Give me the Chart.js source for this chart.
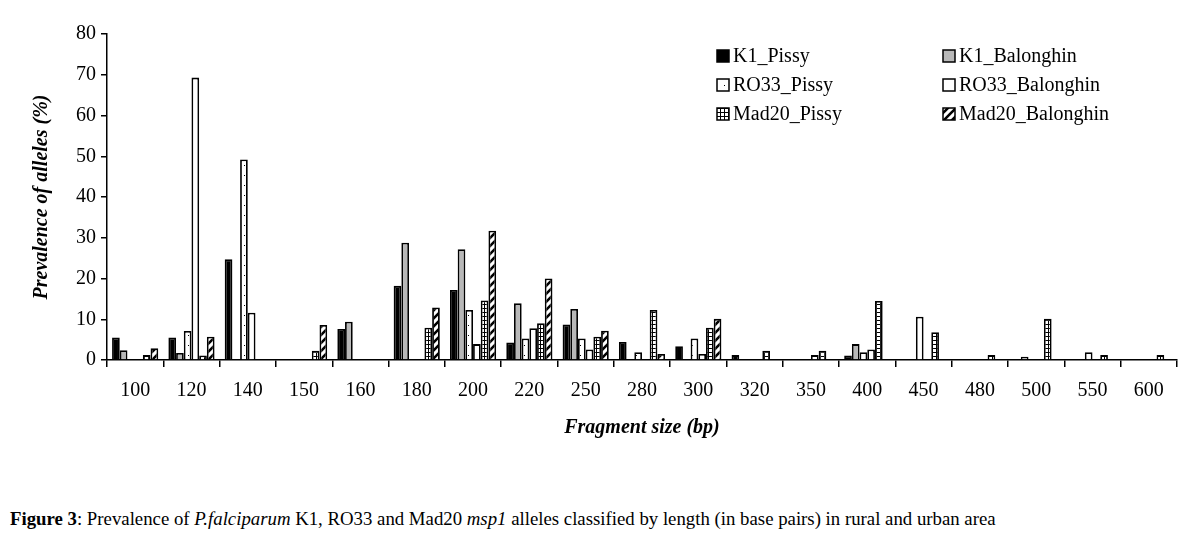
<!DOCTYPE html>
<html>
<head>
<meta charset="utf-8">
<script src="https://cdn.jsdelivr.net/npm/chart.js@4.4.1/dist/chart.umd.min.js"></script>
<style>
    body { margin: 0; background: #fff; }
    #wrap { position: relative; width: 1200px; height: 440px; }
    #caption { font-family: "Liberation Serif", serif; font-size: 18.8px; color: #000; margin: 68px 0 0 10px; white-space: nowrap; }
</style>
</head>
<body>
<div id="wrap"><canvas id="grafico"></canvas></div>
<div id="caption"><b>Figure 3</b>: Prevalence of <i>P.falciparum</i> K1, RO33 and Mad20 <i>msp1</i> alleles classified by length (in base pairs) in rural and urban area</div>
<script>
// tamaños de fragmento (bp)
const fragmentos = ["100","120","140","150","160","180","200","220","250","280","300","320","350","400","450","480","500","550","600"];

// prevalencia (%) por serie
const k1Pissy        = [5.5, 5.5, 24.7, 0,   7.6, 18.2, 17.2, 4.3,  8.7,  4.4, 3.4, 1.2, 0,   1.1, 0,    0,   0,    0,   0];
const k1Balonghin    = [2.4, 1.7, 0,    0,   9.4, 28.8, 27.2, 13.9, 12.5, 0,   0,   0,   0,   3.9, 0,    0,   0.8,  0,   0];
const ro33Pissy      = [0,   7.1, 49.2, 0,   0,   0,    12.3, 5.3,  5.3,  1.9, 5.3, 0,   0,   1.9, 10.6, 0,   0,    1.9, 0];
const ro33Balonghin  = [0,   69.3,11.6, 0,   0,   0,    3.9,  7.8,  2.6,  0,   1.5, 0,   1.2, 2.6, 0,    0,   0,    0,   0];
const mad20Pissy     = [1.2, 1.1, 0,    2.3, 0,   7.9,  14.6, 9.0,  5.7,  12.3,7.9, 2.3, 2.3, 14.5,6.8,  1.2, 10.1, 1.2, 1.2];
const mad20Balonghin = [2.9, 5.7, 0,    8.6, 0,   12.9, 31.7, 20.0, 7.2,  1.5, 10.1,0,   0,   0,   0,    0,   0,    0,   0];

const yTicks = [0,10,20,30,40,50,60,70,80];

function tramado(tipo) {
    const c = document.createElement("canvas");
    const g = c.getContext("2d");
    if (tipo == "puntos") {
        c.width = 8; c.height = 10;
        g.fillStyle = "#fff"; g.fillRect(0,0,8,10);
        g.fillStyle = "#000"; g.fillRect(4,5,1,1);
    } else if (tipo == "rejilla") {
        c.width = 4; c.height = 4;
        g.fillStyle = "#fff"; g.fillRect(0,0,4,4);
        g.fillStyle = "#000"; g.fillRect(0,0,4,1); g.fillRect(0,0,1,4);
    } else {
        c.width = 8; c.height = 8;
        g.fillStyle = "#fff"; g.fillRect(0,0,8,8);
        g.strokeStyle = "#000"; g.lineWidth = 2.6;
        g.beginPath();
        g.moveTo(-2,10); g.lineTo(10,-2);
        g.moveTo(-6,6); g.lineTo(6,-6);
        g.moveTo(2,14); g.lineTo(14,2);
        g.stroke();
    }
    return g.createPattern(c, "repeat");
}

function loadPage() {
    const fuente = '"Liberation Serif", "Times New Roman", serif';
    const serie = (label, data, fondo) => ({
        label: label,
        data: data,
        backgroundColor: fondo,
        borderColor: "#000",
        borderWidth: 1.8,
        borderSkipped: "start",
        categoryPercentage: 0.82,
        barPercentage: 1.0
    });
    const data = {
        labels: fragmentos,
        datasets: [
            serie("K1_Pissy", k1Pissy, "#000"),
            serie("K1_Balonghin", k1Balonghin, "#b8b8b8"),
            serie("RO33_Pissy", ro33Pissy, tramado("puntos")),
            serie("RO33_Balonghin", ro33Balonghin, "#fff"),
            serie("Mad20_Pissy", mad20Pissy, tramado("rejilla")),
            serie("Mad20_Balonghin", mad20Balonghin, tramado("diagonal"))
        ]
    };
    const leyenda = {
        id: "leyendaInterna",
        afterDraw(chart) {
            const ctx = chart.ctx;
            ctx.save();
            ctx.font = "20px " + fuente;
            ctx.textBaseline = "middle";
            chart.data.datasets.forEach((ds, k) => {
                const x = 717 + (k % 2) * 226;
                const y = 56 + Math.floor(k / 2) * 29;
                ctx.fillStyle = ds.backgroundColor;
                ctx.fillRect(x, y - 6, 12, 12);
                ctx.strokeStyle = "#000";
                ctx.lineWidth = 1.5;
                ctx.strokeRect(x, y - 6, 12, 12);
                ctx.fillStyle = "#000";
                ctx.fillText(ds.label, x + 16, y + 1);
            });
            ctx.restore();
        }
    };
    const config = {
        type: "bar",
        data: data,
        plugins: [leyenda],
        options: {
            responsive: true,
            maintainAspectRatio: false,
            animation: false,
            layout: { padding: { top: 34, right: 23, left: 0, bottom: 0 } },
            plugins: {
                legend: { display: false },
                tooltip: { enabled: false }
            },
            scales: {
                x: {
                    afterFit: s => { s.height = 80; },
                    grid: { display: true, offset: true, drawOnChartArea: false, drawTicks: true, tickLength: 7, color: "#000", lineWidth: 1.5 },
                    border: { display: true, color: "#000", width: 1.5 },
                    ticks: { color: "#000", font: { family: fuente, size: 20 }, padding: 12, maxRotation: 0, autoSkip: false },
                    title: { display: true, text: "Fragment size (bp)", color: "#000", font: { family: fuente, size: 20, weight: "bold", style: "italic" }, padding: { top: 8, bottom: 0 } }
                },
                y: {
                    min: 0,
                    max: 80,
                    afterFit: s => { s.width = 107; },
                    afterBuildTicks: s => { s.ticks = yTicks.map(v => ({ value: v })); },
                    grid: { display: true, drawOnChartArea: false, drawTicks: true, tickLength: 6, color: "#000", lineWidth: 1.5 },
                    border: { display: true, color: "#000", width: 1.5 },
                    ticks: { color: "#000", font: { family: fuente, size: 20 }, padding: 5 },
                    title: { display: true, text: "Prevalence of alleles (%)", color: "#000", font: { family: fuente, size: 20, weight: "bold", style: "italic" }, padding: { top: 30, bottom: 0 } }
                }
            }
        }
    };
    new Chart(document.getElementById("grafico").getContext("2d"), config);
}
window.addEventListener("DOMContentLoaded", loadPage);
</script>
</body>
</html>
